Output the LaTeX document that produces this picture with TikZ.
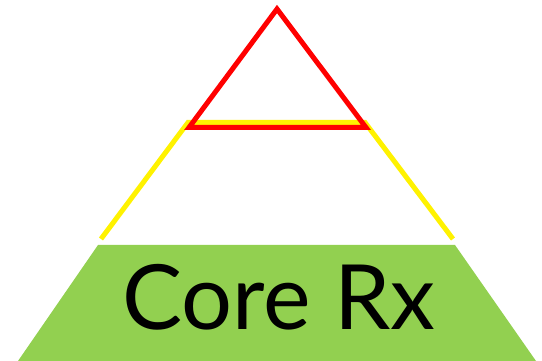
\documentclass[tikz,border=0pt]{standalone}
\usepackage{fontspec}
\setmainfont{Lato}
\usepackage{xcolor}
\definecolor{coregreen}{HTML}{92D050}
\usetikzlibrary{positioning}

\begin{document}
\begin{tikzpicture}[x=1pt, y=-1pt,
    tier/.style={line width=5pt, line join=miter},
    base/.style={fill=coregreen, draw=none}]
    \useasboundingbox (0,0) rectangle (542,361);

    % Layers
    \fill[base] (98,245) -- (455,245) -- (536,361) -- (18,361) -- cycle;
    \draw[tier, yellow] (101,239) -- (188,122.5) -- (365,122.5) -- (453,239);
    \draw[tier, red] (277,9) -- (366,127.5) -- (189,127.5) -- cycle;

    % Label
    \node[anchor=base, inner sep=0pt, font=\fontsize{90}{90}\selectfont] (core) at (279,330) {Core Rx};
\end{tikzpicture}
\end{document}
